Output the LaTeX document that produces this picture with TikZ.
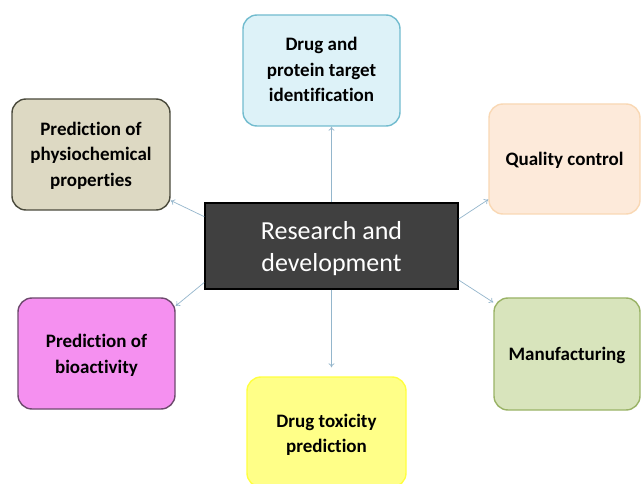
\documentclass[tikz,border=0pt]{standalone}
\usepackage{fontspec}
\setmainfont{Carlito}[Ligatures=NoCommon]
\usetikzlibrary{arrows.meta}
\definecolor{hubfill}{HTML}{404040}
\definecolor{linkcol}{HTML}{94B6CC}
\definecolor{cyanfill}{HTML}{DDF2F8}
\definecolor{cyanline}{HTML}{72BCCF}
\definecolor{peachfill}{HTML}{FDEADA}
\definecolor{peachline}{HTML}{F9D8B4}
\definecolor{greenfill}{HTML}{D8E4BC}
\definecolor{greenline}{HTML}{9AB366}
\definecolor{yellowfill}{HTML}{FFFF88}
\definecolor{yellowline}{HTML}{FFFF40}
\definecolor{tanfill}{HTML}{DDD9C3}
\definecolor{tanline}{HTML}{4A4A3C}
\definecolor{pinkfill}{HTML}{F590F0}
\definecolor{pinkline}{HTML}{6E4A6E}
% centred lines of text, lowered by #1 without changing the box size
\newcommand{\droplines}[2]{%
  \raisebox{-#1}[\height][\depth]{\begin{tabular}{@{}c@{}}#2\end{tabular}}}
\tikzset{
  hub/.style={draw=black, line width=1.6pt, fill=hubfill, text=white,
    font=\fontsize{26}{32}\selectfont, inner sep=0pt},
  topic/.style={rounded corners=14pt, line width=1.4pt,
    inner sep=0pt, font=\fontsize{19}{25.5}\selectfont\bfseries},
  link/.style={draw=linkcol, line width=0.7pt, -{To[length=4pt,width=6pt]}}
}
\begin{document}
\begin{tikzpicture}[x=1pt,y=-1pt]
\useasboundingbox (0,0) rectangle (641,484);
\fill[white] (0,0) rectangle (641,484);

\node[hub, minimum width=253pt, minimum height=86pt] (rd) at (331.5,246)
  {\droplines{3.5pt}{Research and\\development}};

\node[topic, draw=cyanline, fill=cyanfill, minimum width=157pt, minimum height=111pt]
  (target) at (321.5,70.5) {\droplines{0.5pt}{Drug and\\protein target\\identification}};
\node[topic, draw=peachline, fill=peachfill, minimum width=151pt, minimum height=110pt]
  (quality) at (564.5,159) {\droplines{1.5pt}{Quality control}};
\node[topic, draw=greenline, fill=greenfill, minimum width=146pt, minimum height=112pt]
  (manuf) at (567,354) {\droplines{1.5pt}{Manufacturing}};
\node[topic, draw=yellowline, fill=yellowfill, minimum width=159pt, minimum height=110pt]
  (toxic) at (326.5,432) {\droplines{3pt}{Drug toxicity\\prediction}};
\node[topic, draw=tanline, fill=tanfill, minimum width=158pt, minimum height=111pt]
  (physio) at (91,154.5) {\droplines{1pt}{Prediction of\\physiochemical\\properties}};
\node[topic, draw=pinkline, fill=pinkfill, minimum width=157pt, minimum height=111pt]
  (bio) at (96.5,353.5) {\droplines{2pt}{Prediction of\\bioactivity}};

\draw[link] (rd.north) -- (rd.north |- target.south);
\draw[link, shorten >=9pt] (rd.south) -- (rd.south |- toxic.north);
\draw[link] (rd.167.5) -- (physio.330);
\draw[link] (rd.12.5) -- (quality.208.5);
\draw[link] (rd.196.3) -- (bio.31);
\draw[link] (rd.345) -- (manuf.145.6);
\end{tikzpicture}
\end{document}
